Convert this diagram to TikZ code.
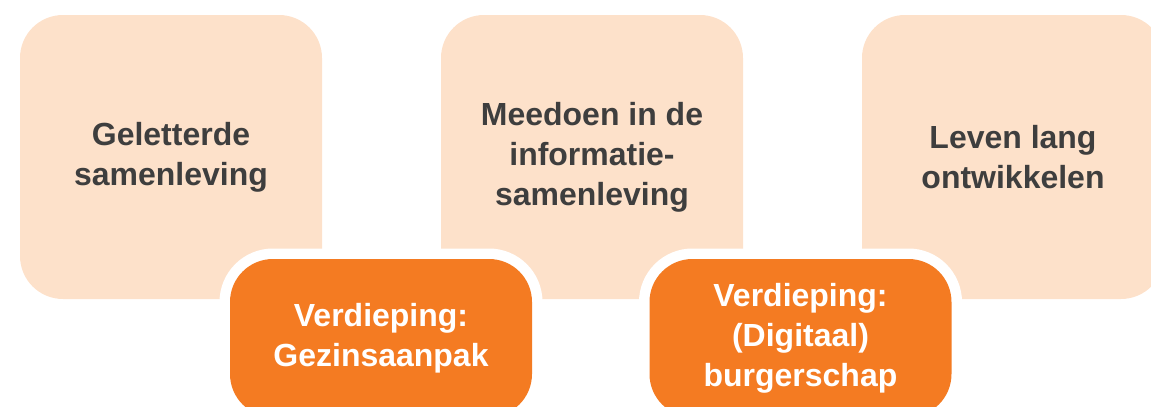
\documentclass[tikz,border=0pt]{standalone}
\usepackage{fontspec}
\setmainfont{Liberation Sans}
\usepackage{xcolor}
\usetikzlibrary{positioning}
\definecolor{themepeach}{RGB}{253,225,202}
\definecolor{deeporange}{RGB}{244,123,34}
\definecolor{themetext}{RGB}{62,62,62}

\begin{document}
\begin{tikzpicture}[
  % theme box style
  themebox/.style={
    fill=themepeach, rounded corners=0.86cm,
    minimum width=6.04cm, minimum height=5.68cm,
    inner sep=0pt, align=center, text=themetext,
    font=\fontsize{18.2}{22.8}\selectfont\bfseries
  },
  % deepening box style
  deepbox/.style={
    fill=deeporange, rounded corners=0.86cm,
    preaction={draw=white, line width=0.42cm},
    minimum width=6.04cm, minimum height=3.16cm,
    inner sep=0pt, align=center, text=white,
    font=\fontsize{18.2}{22.8}\selectfont\bfseries
  }
]

% ─── Canvas ────────────────────────────────────────────────────────────────
\useasboundingbox (0,0) rectangle (23.02,-8.14);
\clip (0,0) rectangle (23.02,-8.14);

% ─── Theme boxes (top row) ─────────────────────────────────────────────────
\node[themebox] (literate) at (3.42,-3.14)
  {Geletterde\\samenleving};
\node[themebox] (infosoc) at (11.84,-3.14)
  {Meedoen in de\\informatie-\\samenleving};
\node[themebox] (lifelong) at (20.26,-3.14)
  {Leven lang\\ontwikkelen};

% ─── Deepening boxes (bottom row, overlapping) ─────────────────────────────
\node[deepbox] (family) at (7.62,-6.76)
  {Verdieping:\\Gezinsaanpak};
\node[deepbox] (citizen) at (16.01,-6.76)
  {Verdieping:\\(Digitaal)\\burgerschap};

\end{tikzpicture}
\end{document}
